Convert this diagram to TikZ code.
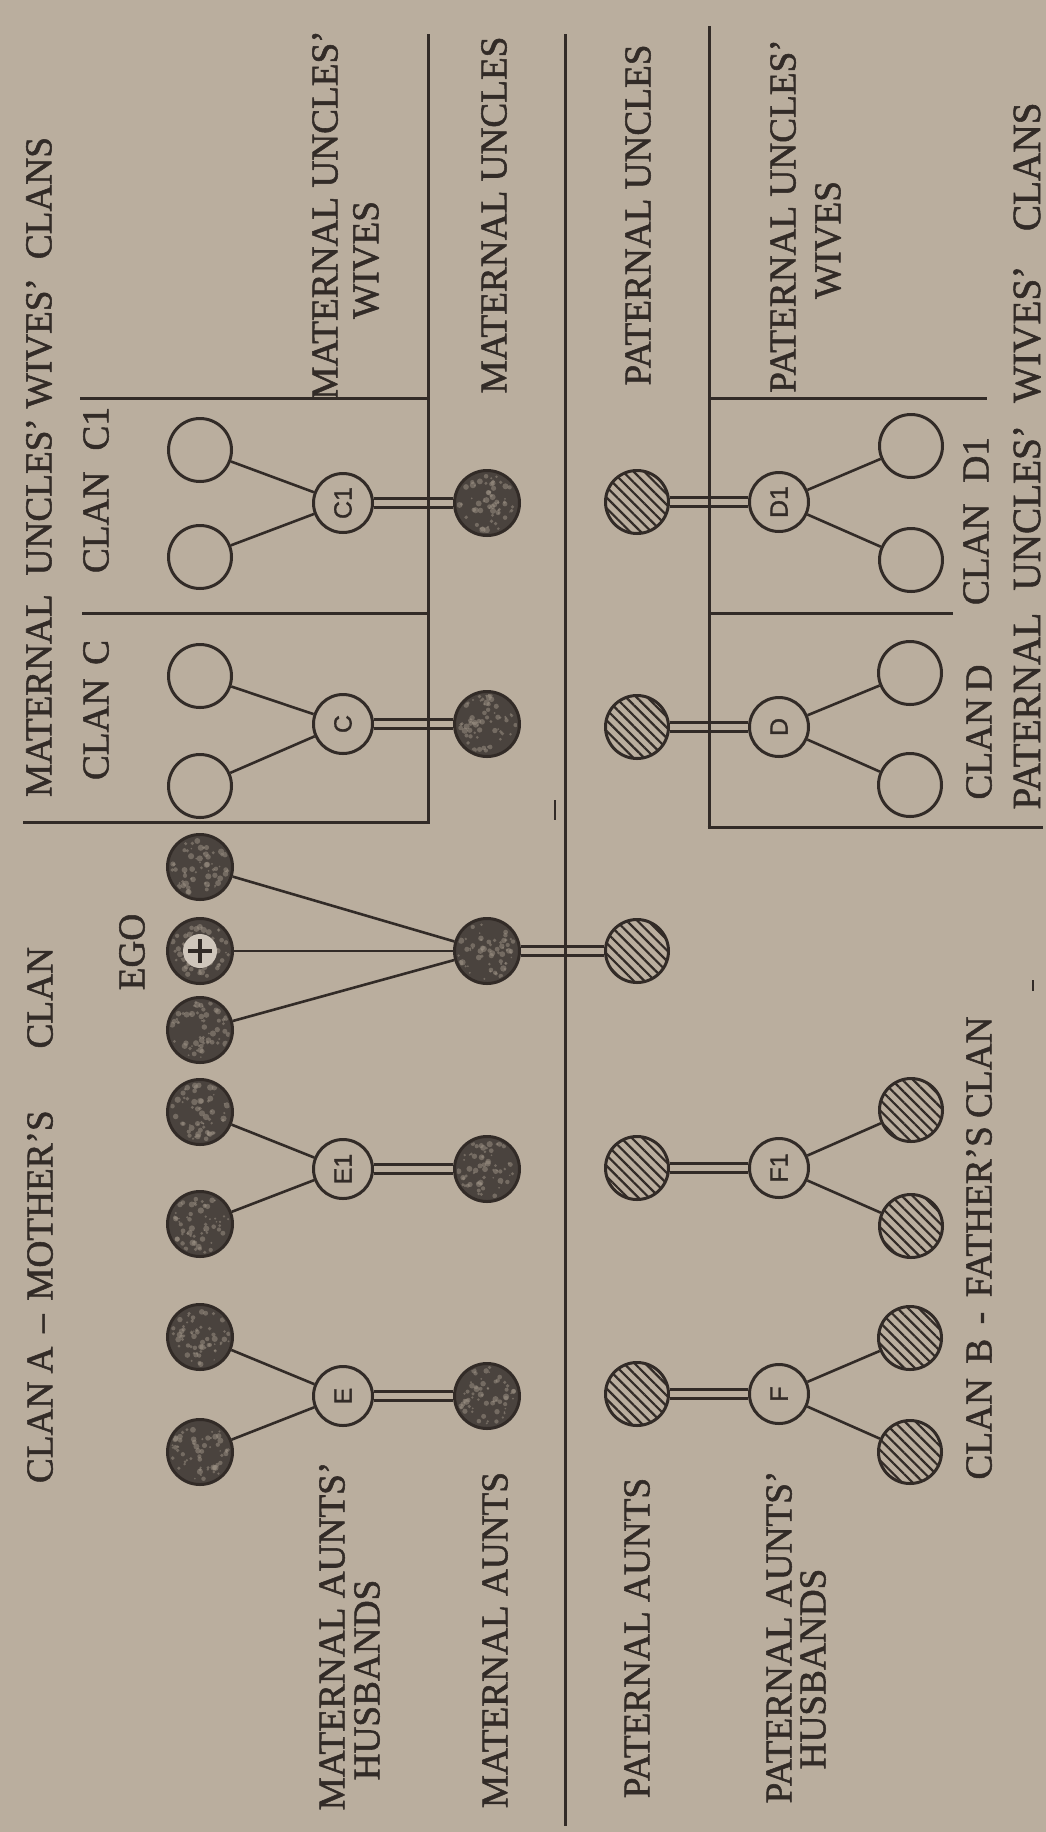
\documentclass[tikz,border=0pt]{standalone}
\usepackage{fontspec}
\setmainfont{Liberation Serif}[FakeStretch=0.98,FakeBold=1.4]
\newfontfamily\kinfont{Liberation Sans}[FakeBold=1.2]
\usetikzlibrary{patterns.meta,calc}
\definecolor{paper}{HTML}{BAAE9E}
\definecolor{ink}{HTML}{322B27}
\definecolor{dark}{HTML}{4A433E}
\pgfdeclarelayer{bg}
\pgfsetlayers{bg,main}
\tikzset{
  person/.style={circle, inner sep=0pt, draw=ink, line width=3pt},
  openp/.style={person, minimum size=63pt, fill=paper},
  filledp/.style={person, minimum size=65pt, fill=dark},
  hatchedp/.style={person, minimum size=63pt, fill=paper,
    postaction={pattern={Lines[angle=-45,distance=7.5pt,line width=2.2pt]}, pattern color=ink}},
  kin/.style={person, minimum size=59pt, fill=paper, text=ink, rotate=90,
    font=\kinfont\fontsize{25}{25}\selectfont},
  lbl/.style={rotate=90, inner sep=0pt, text=ink, font=\fontsize{38}{40}\selectfont},
  tie/.style={draw=ink, line width=2.6pt},
  wed/.style={draw=ink, line width=2.6pt, double=paper, double distance=6pt},
  rulel/.style={draw=ink, line width=3pt},
  speck/.style={fill=paper!75!dark, opacity=0.5},
}
\newcommand\mottle[1]{%
  \begin{scope}
    \clip (#1) circle (30pt);
    \foreach \mtI in {1,...,60} {
      \pgfmathsetmacro\mtR{29*sqrt(rnd)}
      \pgfmathsetmacro\mtA{rnd*360}
      \pgfmathsetmacro\mtS{0.8+rnd*2.4}
      \fill[speck] ($(#1)+(\mtA:\mtR pt)$) circle (\mtS pt);
    }
  \end{scope}}
\begin{document}
\begin{tikzpicture}[x=1pt,y=-1pt]
\pgfmathsetseed{4711}
\begin{pgfonlayer}{bg}
\fill[paper] (0,0) rectangle (1046,1832);
\end{pgfonlayer}
\useasboundingbox (0,0) rectangle (1046,1832);

% ---- mother's clan side: children row
\node[openp] (c1a) at (200,450) {};
\node[openp] (c1b) at (200,557) {};
\node[openp] (ca) at (200,676) {};
\node[openp] (cb) at (200,786) {};
\node[filledp] (sibA) at (200,867) {};
\node[filledp] (ego) at (200,951) {};
\node[filledp] (sibB) at (200,1030) {};
\node[filledp] (e1a) at (200,1112) {};
\node[filledp] (e1b) at (200,1224) {};
\node[filledp] (ea) at (200,1337) {};
\node[filledp] (eb) at (200,1452) {};

% ---- lettered nodes (left)
\node[kin] (nC1) at (343,503) {C1};
\node[kin] (nC) at (343,724) {C};
\node[kin] (nE1) at (343,1169) {E1};
\node[kin] (nE) at (343,1396) {E};

% ---- maternal row
\node[filledp] (mu1) at (487,503) {};
\node[filledp] (mu2) at (487,724) {};
\node[filledp] (mother) at (487,951) {};
\node[filledp] (ma1) at (487,1169) {};
\node[filledp] (ma2) at (487,1396) {};

% ---- paternal row
\node[hatchedp] (pu1) at (637,502) {};
\node[hatchedp] (pu2) at (637,727) {};
\node[hatchedp] (father) at (637,951) {};
\node[hatchedp] (pa1) at (637,1168) {};
\node[hatchedp] (pa2) at (637,1394) {};

% ---- lettered nodes (right)
\node[kin] (nD1) at (779,502) {D1};
\node[kin] (nD) at (779,727) {D};
\node[kin] (nF1) at (779,1168) {F1};
\node[kin] (nF) at (779,1394) {F};

% ---- father's side children
\node[openp] (d1a) at (911,446) {};
\node[openp] (d1b) at (911,560) {};
\node[openp] (da) at (910,673) {};
\node[openp] (db) at (910,785) {};
\node[hatchedp] (f1a) at (911,1110) {};
\node[hatchedp] (f1b) at (911,1226) {};
\node[hatchedp] (fa) at (910,1338) {};
\node[hatchedp] (fb) at (910,1452) {};

% mottled texture of the dark circles
\foreach \who in {sibA,ego,sibB,e1a,e1b,ea,eb,mu1,mu2,mother,ma1,ma2} {\mottle{\who}}

% ego mark
\node[circle, inner sep=0pt, minimum size=34pt, fill=paper!70!white] (egoin) at (ego) {};
\draw[ink, line width=4.5pt] ([yshift=-12pt]egoin.center) -- ([yshift=12pt]egoin.center);
\draw[ink, line width=4.5pt] ([xshift=-12pt]egoin.center) -- ([xshift=12pt]egoin.center);

\begin{pgfonlayer}{bg}
% marriages
\draw[wed] (nC1) -- (mu1);
\draw[wed] (nC) -- (mu2);
\draw[wed] (mother) -- (father);
\draw[wed] (nE1) -- (ma1);
\draw[wed] (nE) -- (ma2);
\draw[wed] (pu1) -- (nD1);
\draw[wed] (pu2) -- (nD);
\draw[wed] (pa1) -- (nF1);
\draw[wed] (pa2) -- (nF);
% descent
\draw[tie] (nC1) -- (c1a);
\draw[tie] (nC1) -- (c1b);
\draw[tie] (nC) -- (ca);
\draw[tie] (nC) -- (cb);
\draw[tie] (mother) -- (sibA);
\draw[tie] (mother) -- (ego);
\draw[tie] (mother) -- (sibB);
\draw[tie] (nE1) -- (e1a);
\draw[tie] (nE1) -- (e1b);
\draw[tie] (nE) -- (ea);
\draw[tie] (nE) -- (eb);
\draw[tie] (nD1) -- (d1a);
\draw[tie] (nD1) -- (d1b);
\draw[tie] (nD) -- (da);
\draw[tie] (nD) -- (db);
\draw[tie] (nF1) -- (f1a);
\draw[tie] (nF1) -- (f1b);
\draw[tie] (nF) -- (fa);
\draw[tie] (nF) -- (fb);
% rules
\draw[rulel] (565,34) -- (565,1826);
\draw[rulel] (428,34) -- (428,822);
\draw[rulel] (80,398) -- (428,398);
\draw[rulel] (82,613) -- (428,613);
\draw[rulel] (23,822) -- (429.5,822);
\draw[rulel] (709,26) -- (709,827);
\draw[rulel] (709,398) -- (987,398);
\draw[rulel] (709,613) -- (953,613);
\draw[rulel] (707.5,827) -- (1043,827);
\draw[ink, line width=2pt] (555,800) -- (555,820);
\draw[ink, line width=2.5pt] (1033,980) -- (1033,991);
\end{pgfonlayer}

% ---- labels
\node[lbl] (topL) at (39,467) {\makebox[660pt][s]{MATERNAL\hspace{6pt plus 1fil}UNCLES’\hspace{2pt plus 0.6fil}WIVES’\hspace{6pt plus 1fil}CLANS}};
\node[lbl] (clanA) at (40,1215) {\makebox[536pt][s]{CLAN\hspace{6pt plus 0.3fil}A\hspace{10pt plus 0.5fil}–\hspace{10pt plus 0.5fil}MOTHER’S\hspace{40pt plus 3fil}CLAN}};
\node[lbl] (clanC1) at (96,490) {\makebox[166pt][s]{CLAN C1}};
\node[lbl] (clanC) at (96,710) {\makebox[140pt][s]{CLAN C}};
\node[lbl] (egol) at (132,952) {EGO};
\node[lbl] (muw1) at (325,215) {MATERNAL UNCLES’};
\node[lbl] (muw2) at (366,260) {WIVES};
\node[lbl] (mul) at (494,215) {MATERNAL UNCLES};
\node[lbl] (pul) at (638,215) {PATERNAL UNCLES};
\node[lbl] (puw1) at (783,216) {PATERNAL UNCLES’};
\node[lbl] (puw2) at (828,240) {WIVES};
\node[lbl] (clanD1) at (976,521) {\makebox[168pt][s]{CLAN D1}};
\node[lbl] (clanD) at (979,732) {\makebox[135pt][s]{CLAN D}};
\node[lbl, font=\fontsize{40}{42}\selectfont] (topR) at (1027,456) {\makebox[707pt][s]{PATERNAL\hspace{8pt plus 1fil}UNCLES’\hspace{8pt plus 1fil}WIVES’\hspace{12pt plus 1.6fil}CLANS}};
\node[lbl] (clanB) at (979,1248) {\makebox[463pt][s]{CLAN\hspace{6pt plus 1fil}B\hspace{6pt plus 1fil}-\hspace{6pt plus 1fil}FATHER’S\hspace{4pt plus 0.5fil}CLAN}};
\node[lbl] (mah1) at (332,1636) {MATERNAL AUNTS’};
\node[lbl] (mah2) at (367,1680) {HUSBANDS};
\node[lbl] (mal) at (495,1640) {MATERNAL AUNTS};
\node[lbl] (pal) at (637,1638) {PATERNAL AUNTS};
\node[lbl] (pah1) at (779,1637) {PATERNAL AUNTS’};
\node[lbl] (pah2) at (813,1669) {HUSBANDS};
\end{tikzpicture}
\end{document}
